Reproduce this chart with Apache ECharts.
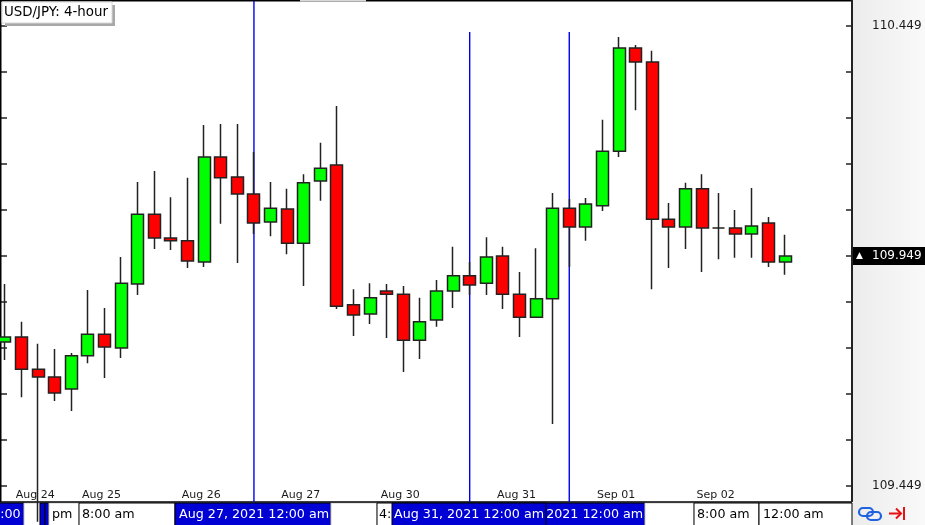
<!DOCTYPE html>
<html><head><meta charset="utf-8">
<script src="https://cdn.jsdelivr.net/npm/echarts@6/dist/echarts.min.js"></script>
<style>html,body{margin:0;padding:0;background:#fff;}#c{width:925px;height:525px;}</style>
</head><body><div id="c"></div>
<script>
// ---- data ----
const categories = [
 '2021.08.24 12:00','2021.08.24 16:00','2021.08.24 20:00',
 '2021.08.25 00:00','2021.08.25 04:00','2021.08.25 08:00','2021.08.25 12:00','2021.08.25 16:00','2021.08.25 20:00',
 '2021.08.26 00:00','2021.08.26 04:00','2021.08.26 08:00','2021.08.26 12:00','2021.08.26 16:00','2021.08.26 20:00',
 '2021.08.27 00:00','2021.08.27 04:00','2021.08.27 08:00','2021.08.27 12:00','2021.08.27 16:00','2021.08.27 20:00',
 '2021.08.29 20:00',
 '2021.08.30 00:00','2021.08.30 04:00','2021.08.30 08:00','2021.08.30 12:00','2021.08.30 16:00','2021.08.30 20:00',
 '2021.08.31 00:00','2021.08.31 04:00','2021.08.31 08:00','2021.08.31 12:00','2021.08.31 16:00','2021.08.31 20:00',
 '2021.09.01 00:00','2021.09.01 04:00','2021.09.01 08:00','2021.09.01 12:00','2021.09.01 16:00','2021.09.01 20:00',
 '2021.09.02 00:00','2021.09.02 04:00','2021.09.02 08:00','2021.09.02 12:00','2021.09.02 16:00','2021.09.02 20:00',
 '2021.09.03 00:00','2021.09.03 04:00','2021.09.03 08:00','2021.09.03 12:00','2021.09.03 16:00'
];
const openVals = [109.762,109.773,109.703,109.686,109.660,109.732,109.779,109.749,109.888,110.040,
 109.988,109.982,109.936,110.164,110.121,110.084,110.023,110.051,109.977,110.112,
 110.147,109.843,109.823,109.873,109.866,109.766,109.810,109.873,109.906,109.890,
 109.949,109.866,109.816,109.856,110.053,110.012,110.058,110.177,110.401,110.371,
 110.029,110.012,110.095,110.010,110.010,109.997,110.021,109.936];
const closeVals = [109.773,109.703,109.686,109.651,109.732,109.779,109.751,109.890,110.040,109.988,
 109.982,109.938,110.164,110.119,110.084,110.021,110.053,109.977,110.108,110.140,
 109.840,109.821,109.858,109.866,109.766,109.806,109.873,109.906,109.886,109.947,
 109.866,109.816,109.856,110.053,110.012,110.062,110.177,110.401,110.371,110.029,
 110.012,110.095,110.010,110.010,109.997,110.014,109.936,109.949];
const lowVals = [109.723,109.642,109.371,109.634,109.612,109.716,109.684,109.727,109.864,109.964,
 109.962,109.923,109.925,110.019,109.934,109.997,109.992,109.953,109.884,110.069,
 109.834,109.775,109.801,109.771,109.697,109.725,109.795,109.836,109.864,109.864,
 109.834,109.773,109.814,109.584,109.925,109.982,110.047,110.164,110.266,109.877,
 109.923,109.964,109.914,109.942,109.945,109.945,109.925,109.908];
const highVals = [109.888,109.806,109.758,109.747,109.738,109.875,109.836,109.947,110.110,110.134,
 110.077,110.119,110.234,110.236,110.236,110.175,110.110,110.095,110.127,110.195,
 110.275,109.877,109.890,109.888,109.884,109.858,109.897,109.969,109.936,109.990,
 109.969,109.914,109.966,110.086,110.073,110.075,110.245,110.425,110.408,110.395,
 110.064,110.108,110.127,110.086,110.049,110.097,110.034,109.995];
const dateLabelIdx = [2,6,12,18,24,31,37,43];
const dateLabels = ['Aug 24','Aug 25','Aug 26','Aug 27','Aug 30','Aug 31','Sep 01','Sep 02'];
const priceTicks = [110.449,110.349,110.249,110.149,110.049,109.949,109.849,109.749,109.649,109.549,109.449];
const priceLabels = [110.449,109.949,109.449];
const currentPrice = 109.949;
const vLineIdx = [15,28,34];
const vLineTop = [110.5034,110.436,110.436];
const yMin = 109.4142, yMax = 110.5034;
const title = 'USD/JPY: 4-hour';

// ---- build ----
const FONT = 'DejaVu Sans';
const BLUE = '#0000d4';
const LINEBLUE = '#0000ee';
const candleData = openVals.map((o,i)=>[o, closeVals[i], lowVals[i], highVals[i]]);

const gfx = [];
gfx.push({type:'rect', z:-5, shape:{x:852,y:0,width:73,height:525},
  style:{fill:new echarts.graphic.LinearGradient(0,0,1,0,[{offset:0,color:'#ececec'},{offset:1,color:'#f9f9f9'}])}});
function box(x,w,fill,stroke,text,tx,tcol){
  gfx.push({type:'rect', z:1, shape:{x:x,y:503,width:w,height:23}, style:{fill:fill,stroke:stroke,lineWidth:1}});
  if(text) gfx.push({type:'text', z:1, style:{text:text,x:tx,y:515,fill:tcol,fontSize:12.7,fontFamily:FONT,verticalAlign:'middle'}});
}
box(-1,25,BLUE,'#000','12:00 am',-16,'#fff');
box(24,16,'#fff','#c8c8c8');
box(40,5,BLUE,'#000'); box(45,4,BLUE,'#000');
box(49,30,'#fff','#c8c8c8','pm',52,'#000');
box(79,96,'#fff','#000','8:00 am',82,'#000');
box(175,156,BLUE,'#000','Aug 27, 2021 12:00 am',179,'#fff');
box(331,46,'#fff','#c8c8c8');
box(377,115,'#fff','#000','4:00 pm',379,'#000');
box(492,153,BLUE,'#000','Sep 01, 2021 12:00 am',494,'#fff');
box(392,154,BLUE,'#000','Aug 31, 2021 12:00 am',394,'#fff');
box(645,49,'#fff','#c8c8c8');
box(694,65,'#fff','#000','8:00 am',697,'#000');
box(759,93,'#fff','#000','12:00 am',763,'#000');
// frame
gfx.push({type:'line', z:1, shape:{x1:0,y1:0.75,x2:852,y2:0.75}, style:{stroke:'#000',lineWidth:1.5}});
gfx.push({type:'rect', z:1, shape:{x:300,y:0,width:66,height:1.5}, style:{fill:'#d9d9d9'}});
gfx.push({type:'line', z:1, shape:{x1:0.75,y1:0,x2:0.75,y2:502}, style:{stroke:'#000',lineWidth:1.5}});
gfx.push({type:'line', z:1, shape:{x1:0,y1:502,x2:852,y2:502}, style:{stroke:'#000',lineWidth:1.5}});
gfx.push({type:'line', z:1, shape:{x1:852,y1:0,x2:852,y2:502}, style:{stroke:'#222',lineWidth:2}});
// title box
gfx.push({type:'rect', z:4, shape:{x:5,y:5,width:110,height:21}, style:{fill:'#a8a8a8'}});
gfx.push({type:'rect', z:4, shape:{x:2,y:2,width:110,height:21}, style:{fill:'#fff',stroke:'#d6d6d6',lineWidth:1}});
gfx.push({type:'text', z:4, style:{text:title,x:4,y:12.5,fill:'#000',fontSize:13.4,fontFamily:FONT,verticalAlign:'middle'}});
// icons
gfx.push({type:'rect', z:4, shape:{x:859,y:508,width:14,height:8,r:4}, style:{fill:'none',stroke:'#1f62e0',lineWidth:2.2}});
gfx.push({type:'rect', z:4, shape:{x:867,y:512,width:14,height:8,r:4}, style:{fill:'none',stroke:'#1f62e0',lineWidth:2.2}});
gfx.push({type:'polyline', z:4, shape:{points:[[889,513.5],[901,513.5]]}, style:{stroke:'#e81010',lineWidth:2,fill:null}});
gfx.push({type:'polyline', z:4, shape:{points:[[896,508.5],[901,513.5],[896,518.5]]}, style:{stroke:'#e81010',lineWidth:2,fill:null}});
gfx.push({type:'polyline', z:4, shape:{points:[[904,507],[904,520]]}, style:{stroke:'#e81010',lineWidth:2,fill:null}});

const vLineSeries = vLineIdx.map((idx,k)=>({
  type:'line', yAxisIndex:0, z:1, silent:true, symbol:'none', showSymbol:false,
  lineStyle:{color:LINEBLUE, width:1.4}, itemStyle:{color:LINEBLUE},
  data:[[categories[idx], vLineTop[k]], [categories[idx], yMin]]
}));

const option = {
  animation:false,
  backgroundColor:'#fff',
  grid:{left:-3.3, top:1, right:81.9, bottom:23, containLabel:false, outerBoundsMode:'none'},
  xAxis:{type:'category', data:categories, boundaryGap:true,
    axisLine:{show:false}, axisTick:{show:false}, splitLine:{show:false},
    axisLabel:{inside:true, margin:1, color:'#1a1a1a', fontFamily:FONT, fontSize:11, padding:[0,6,0,0],
      interval:(i)=>dateLabelIdx.includes(i),
      formatter:(v,i)=>{const k=dateLabelIdx.indexOf(i); return k>=0?dateLabels[k]:'';}}},
  yAxis:[
    {type:'value', position:'right', offset:8.9, min:yMin, max:yMax,
      axisLine:{show:false}, splitLine:{show:false},
      axisTick:{show:true, inside:true, length:6, customValues:priceTicks, lineStyle:{color:'#222',width:1.5}},
      axisLabel:{show:true, customValues:priceLabels, margin:1,
        formatter:(v)=>Math.abs(v-currentPrice)<1e-6 ? '{tri|▲}{cur|'+v.toFixed(3)+'}' : '{n|'+v.toFixed(3)+'}',
        rich:{
          n:{color:'#1a1a1a', fontFamily:FONT, fontSize:12, padding:[0,0,0,19]},
          tri:{color:'#fff', backgroundColor:'#000', fontFamily:FONT, fontSize:9, width:15, height:18, lineHeight:18, padding:[0,0,0,3]},
          cur:{color:'#fff', backgroundColor:'#000', fontFamily:FONT, fontSize:12, height:18, lineHeight:18, padding:[0,6,0,1]}
        }}},
    {type:'value', position:'left', min:yMin, max:yMax,
      axisLine:{show:false}, splitLine:{show:false},
      axisTick:{show:true, inside:true, length:10.3, customValues:priceTicks, lineStyle:{color:'#222',width:1.5}},
      axisLabel:{show:false}}
  ],
  graphic:{elements:gfx},
  series:[{
    type:'candlestick', yAxisIndex:0, data:candleData, barWidth:12.5, clip:false, z:3,
    itemStyle:{color:'#00ff00', color0:'#ff0000', borderColor:'#222222', borderColor0:'#222222', borderColorDoji:'#222222', borderWidth:1.5}
  }].concat(vLineSeries)
};
const chart = echarts.init(document.getElementById('c'));
chart.setOption(option);
</script>
</body></html>
